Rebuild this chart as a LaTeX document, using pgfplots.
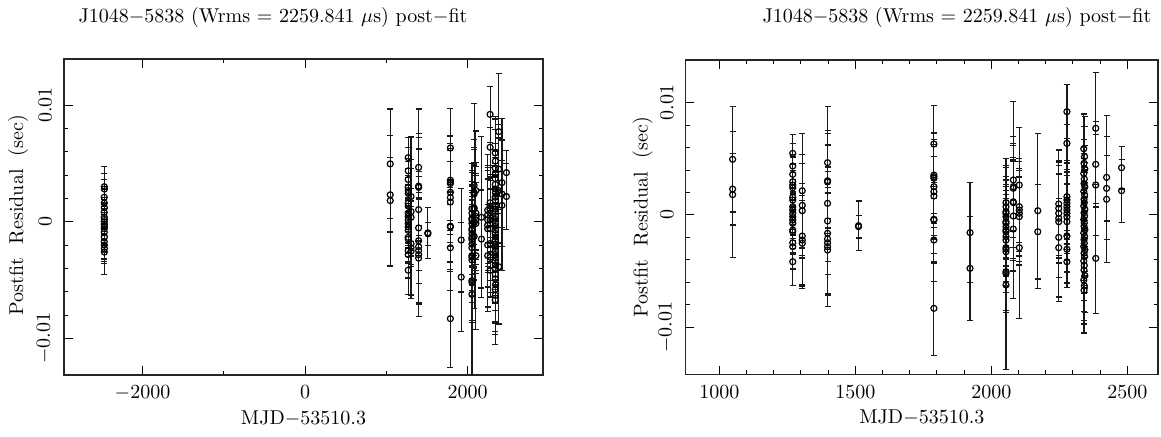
\documentclass[border=0pt]{standalone}
\usepackage{pgfplots}
\usepackage{pgfplotstable}
\pgfplotsset{compat=1.18}

% residuals from 1000 to 2500 days: x  y(sec)  error(sec)
\pgfplotstableread{
x y e
1049 0.00496 0.0047
1049 0.00231 0.0032
1049 0.00181 0.0056
1270 0.00549 0.0017
1270 0.00436 0.0020
1270 0.00362 0.0018
1270 0.00296 0.0022
1270 0.00267 0.0019
1270 0.00243 0.0021
1270 0.00158 0.0024
1270 0.00134 0.0018
1270 0.00074 0.0020
1270 0.00045 0.0023
1270 0.00015 0.0019
1270 -0.00015 0.0021
1270 -0.00045 0.0025
1270 -0.00074 0.0020
1270 -0.00134 0.0022
1270 -0.00149 0.0019
1270 -0.00247 0.0023
1270 -0.00282 0.0020
1270 -0.00416 0.0021
1305 0.00216 0.0051
1305 0.00086 0.0045
1305 0.00038 0.0042
1305 -0.00187 0.0047
1305 -0.00223 0.0040
1305 -0.00252 0.0038
1398 0.00466 0.0050
1398 0.00305 0.0042
1398 0.00294 0.0046
1398 0.00104 0.0052
1398 -0.00053 0.0048
1398 -0.00163 0.0055
1398 -0.00214 0.0060
1398 -0.00247 0.0045
1398 -0.00282 0.0053
1398 -0.00312 0.0050
1512 -0.00095 0.0022
1512 -0.00104 0.0010
1789 0.00632 0.0034
1789 0.00356 0.0038
1789 0.00341 0.0033
1789 0.00327 0.0040
1789 0.00252 0.0036
1789 0.00207 0.0042
1789 0.00169 0.0035
1789 -0.00038 0.0039
1789 -0.00045 0.0030
1789 -0.00223 0.0037
1789 -0.00831 0.0042
1922 -0.00157 0.00445
1922 -0.00475 0.00465
2054 0.0011 0.0039
2054 0.00074 0.0035
2054 0.00029 0.0041
2054 0.00015 0.0030
2054 -0.00015 0.0036
2054 -0.0006 0.0033
2054 -0.00074 0.0038
2054 -0.00104 0.0029
2054 -0.00134 0.0035
2054 -0.00149 0.0040
2054 -0.00193 0.0032
2054 -0.00223 0.0037
2054 -0.00291 0.0034
2054 -0.00303 0.0039
2054 -0.00327 0.0031
2054 -0.00505 0.0036
2054 -0.0052 0.0033
2054 -0.00623 0.0075
2081 0.00312 0.0070
2081 0.00252 0.0045
2081 0.00238 0.0038
2081 0.00118 0.0052
2081 0.0011 0.0040
2081 -0.00009 0.0049
2081 -0.00125 0.0062
2103 0.00267 0.0051
2103 0.00074 0.0040
2103 0.00045 0.0046
2103 0.00015 0.0038
2103 -0.00015 0.0043
2103 -0.00291 0.0063
2171 0.00038 0.0069
2171 -0.00149 0.0042
2248 0.00098 0.0048
2248 0.0006 0.0042
2248 0.00015 0.0045
2248 -0.0003 0.0039
2248 -0.0006 0.0050
2248 -0.00199 0.0057
2248 -0.00291 0.0044
2278 0.0092 0.0024
2278 0.00638 0.0017
2278 0.00163 0.0030
2278 0.00134 0.0035
2278 0.00104 0.0028
2278 0.00074 0.0033
2278 0.00045 0.0031
2278 0.00015 0.0036
2278 -0.00015 0.0029
2278 -0.0006 0.0034
2278 -0.00187 0.0032
2278 -0.00305 0.0030
2278 -0.00416 0.0023
2340 0.0059 0.0031
2343 0.0052 0.0036
2341 0.0046 0.0033
2344 0.0041 0.0038
2340 0.0037 0.0030
2342 0.0032 0.0035
2341 0.0028 0.0032
2344 0.0025 0.0037
2340 0.0021 0.0034
2343 0.0018 0.0029
2341 0.0014 0.0036
2342 0.0011 0.0031
2340 0.0008 0.0035
2344 0.0005 0.0033
2341 0.0002 0.0038
2343 -0.0001 0.0030
2340 -0.0004 0.0034
2342 -0.0007 0.0036
2341 -0.0010 0.0032
2344 -0.0013 0.0037
2340 -0.0016 0.0031
2343 -0.0019 0.0035
2341 -0.0022 0.0033
2342 -0.0025 0.0038
2340 -0.0028 0.0030
2344 -0.0031 0.0034
2341 -0.0034 0.0036
2343 -0.0037 0.0032
2340 -0.0041 0.0035
2342 -0.0045 0.0031
2341 -0.0049 0.0037
2344 -0.0054 0.0033
2340 -0.0058 0.0036
2342 -0.0063 0.0034
2341 -0.0067 0.0038
2384 0.00772 0.0050
2384 0.00451 0.0038
2384 0.00267 0.0045
2384 -0.00386 0.0049
2424 0.00335 0.0055
2424 0.00237 0.0029
2424 0.0014 0.0056
2479 0.00421 0.0019
2479 0.00216 0.0028
}\maindata

% early observations
\pgfplotstableread{
x y e
-2470 0.0030 0.0017
-2469 0.0028 0.0013
-2471 0.0021 0.0015
-2470 0.0016 0.0014
-2469 0.0012 0.0016
-2471 0.0008 0.0013
-2470 0.0004 0.0015
-2469 0.0002 0.0014
-2471 0.0000 0.0016
-2470 -0.0002 0.0013
-2469 -0.0004 0.0015
-2471 -0.0006 0.0014
-2470 -0.0009 0.0017
-2469 -0.0013 0.0013
-2471 -0.0017 0.0015
-2470 -0.0020 0.0014
-2469 -0.0023 0.0013
-2470 -0.0026 0.0019
}\earlydata

\pgfplotsset{
  resid/.style={
    scale only axis,
    anchor=south west,
    axis line style={black!85, line width=0.6pt},
    tick style={black, line width=0.5pt},
    major tick length=4.3pt,
    minor tick length=2.2pt,
    scaled y ticks=false,
    ytick={-0.01,0,0.01},
    yticklabels={$-0.01$,$0$,$0.01$},
    minor y tick num=4,
    xticklabel style={inner sep=0pt, anchor=north},
    xticklabel shift=5.1pt,
    yticklabel style={inner sep=0pt, rotate=90, anchor=south},
    yticklabel shift=6pt,
    /pgf/number format/1000 sep={},
  },
  pts/.style={
    only marks, mark=o, black, mark size=1.5pt,
    mark options={line width=0.6pt},
    error bars/.cd, y dir=both, y explicit,
    error bar style={line width=0.6pt, black!90},
    error mark options={line width=0.6pt, mark size=1.5pt, rotate=90},
  },
}

\begin{document}
\begin{tikzpicture}
\useasboundingbox (0,0) rectangle (580.5pt,218pt);

\begin{axis}[resid, name=L,
  at={(32pt,30.5pt)}, width=239.5pt, height=158pt,
  xmin=-2966, xmax=2929,
  ymin=-0.01314, ymax=0.013946,
  xtick={-2000,0,2000},
  minor x tick num=1,
]
\addplot[pts] table[x=x, y=y, y error=e] {\earlydata};
\addplot[pts] table[x=x, y=y, y error=e] {\maindata};
\end{axis}

\begin{axis}[resid, name=R,
  at={(342.85pt,30.65pt)}, width=236.15pt, height=157.35pt,
  xmin=876.5, xmax=2613,
  ymin=-0.01422, ymax=0.0138,
  xtick={1000,1500,2000,2500},
  minor x tick num=4,
]
\addplot[pts] table[x=x, y=y, y error=e] {\maindata};
\end{axis}

% titles and axis labels
\node at ([xshift=104.5pt, yshift=21pt]L.north west) {J1048$-$5838 (Wrms\ =\ 2259.841 $\mu$s) post$-$fit};
\node at ([xshift=135.6pt, yshift=21.5pt]R.north west) {J1048$-$5838 (Wrms\ =\ 2259.841 $\mu$s) post$-$fit};
\node at ([yshift=-21.5pt]L.south) {MJD$-$53510.3};
\node at ([yshift=-21.5pt]R.south) {MJD$-$53510.3};
\node[rotate=90] at ([xshift=-23pt, yshift=1pt]L.west) {Postfit\ \ Residual\ \ (sec)};
\node[rotate=90] at ([xshift=-21.5pt]R.west) {Postfit\ \ Residual\ \ (sec)};
\end{tikzpicture}
\end{document}
